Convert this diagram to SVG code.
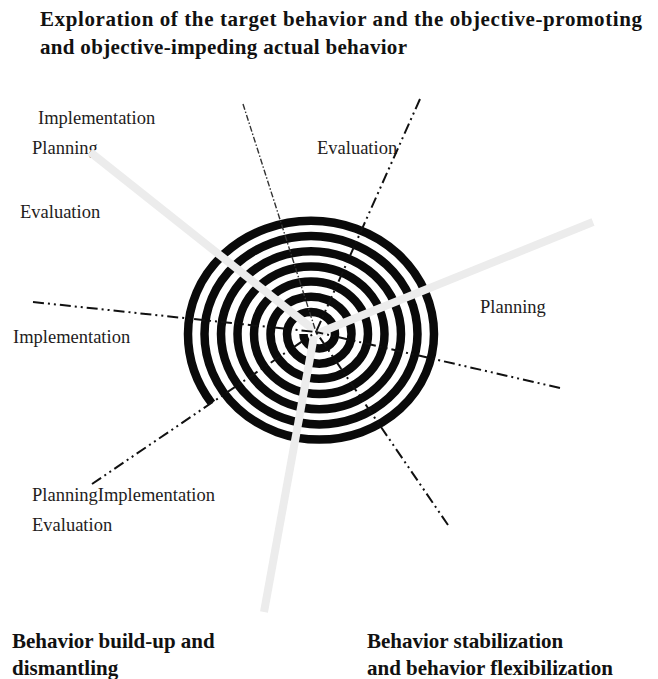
<svg xmlns="http://www.w3.org/2000/svg" width="658" height="679" viewBox="0 0 658 679">
<style>
.t{font-family:"Liberation Serif","Times New Roman",serif;font-size:18.5px;fill:#231c1c}
.h{font-family:"Liberation Serif","Times New Roman",serif;font-size:21px;font-weight:bold;fill:#111}
.spiral{fill:none;stroke:#0a0a0a;stroke-width:8.5}
.gray{stroke:#ececec;stroke-width:8;fill:none}
.dd{stroke:#111;stroke-width:2;fill:none;stroke-dasharray:11 4 2 4 2 4}
.dt{stroke:#333;stroke-width:1.4;fill:none;stroke-dasharray:6 2 1.5 2}
</style>
<rect width="658" height="679" fill="#fff"/>
<g id="title">
<text class="h" x="40" y="26" textLength="602" lengthAdjust="spacing">Exploration of the target behavior and the objective-promoting</text>
<text class="h" x="40" y="54" textLength="367" lengthAdjust="spacing">and objective-impeding actual behavior</text>
</g>
<g id="labels">
<text class="t" x="38" y="124">Implementation</text>
<text class="t" x="32" y="154">Planning</text>
<text class="t" x="20" y="218">Evaluation</text>
<text class="t" x="317" y="154">Evaluation</text>
<text class="t" x="13" y="343">Implementation</text>
<text class="t" x="480" y="313">Planning</text>
<text class="t" x="32" y="501">PlanningImplementation</text>
<text class="t" x="32" y="531">Evaluation</text>
</g>
<g id="bottom-labels">
<text class="h" x="12" y="648">Behavior build-up and</text>
<text class="h" x="12" y="675">dismantling</text>
<text class="h" x="367" y="648">Behavior stabilization</text>
<text class="h" x="367" y="675">and behavior flexibilization</text>
</g>
<g id="spiral">
<path class="spiral" d="M 211.7 403.2 A 131.25 120.75 0 0 1 188 334 A 123 113.16 0 0 1 434 334 A 114.75 105.57 0 0 1 204.5 334 A 106.5 97.98 0 0 1 417.5 334 A 98.25 90.39 0 0 1 221 334 A 90 82.8 0 0 1 401 334 A 81.75 75.21 0 0 1 237.5 334 A 73.5 67.62 0 0 1 384.5 334 A 65.25 60.03 0 0 1 254 334 A 57 52.44 0 0 1 368 334 A 48.75 44.85 0 0 1 270.5 334 A 40.5 37.26 0 0 1 351.5 334 A 32.25 29.67 0 0 1 287 334 A 24 22.08 0 0 1 335 334 A 15.75 14.49 0 0 1 303.5 334"/>
</g>
<g id="connectors">
<line class="gray" x1="90" y1="152" x2="314" y2="330"/>
<line class="gray" x1="593" y1="222" x2="316" y2="334"/>
<line class="gray" x1="264" y1="612" x2="314" y2="336"/>
<line class="dt" x1="243" y1="104" x2="316" y2="332"/>
<line class="dd" x1="420" y1="99" x2="316" y2="332"/>
<line class="dd" x1="33" y1="302" x2="316" y2="332"/>
<line class="dd" x1="92" y1="484" x2="316" y2="332"/>
<line class="dd" x1="560" y1="388" x2="316" y2="332"/>
<line class="dd" x1="448" y1="525" x2="316" y2="332"/>
</g>
</svg>
